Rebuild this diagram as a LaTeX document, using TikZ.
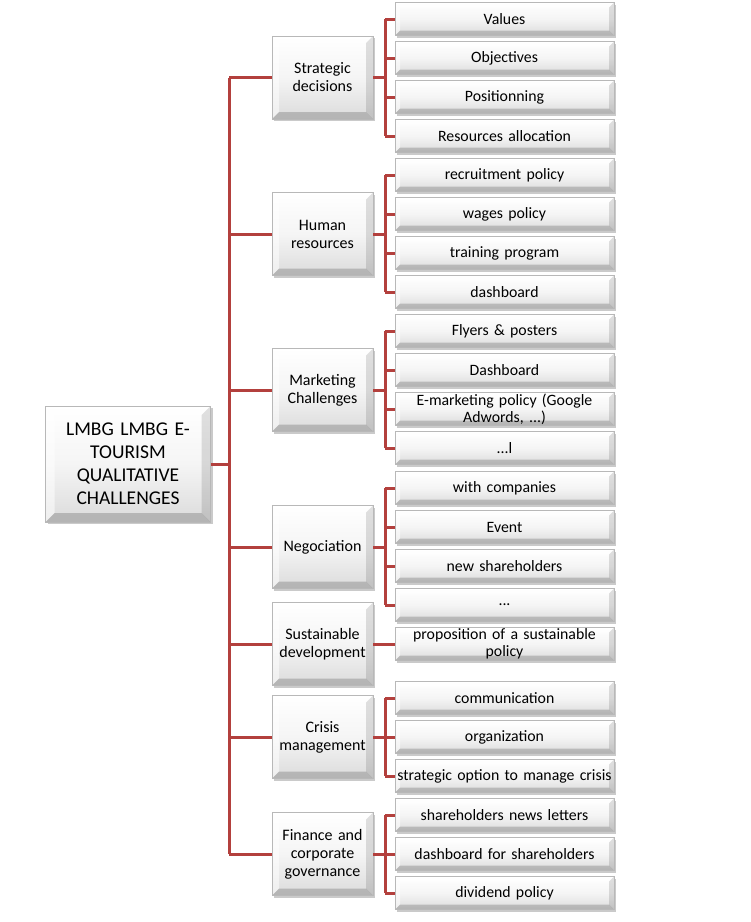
\documentclass[tikz,border=0pt]{standalone}
\usepackage{fontspec}
\setmainfont{Carlito}
\usetikzlibrary{shadows}
\definecolor{linered}{HTML}{B3403D}
\begin{document}
\begin{tikzpicture}[x=1pt,y=-1pt,
  bevel/.style={path picture={
    \fill[white,opacity=0.75] (path picture bounding box.north west) -- (path picture bounding box.north east)
      -- ([xshift=-#1,yshift=-#1]path picture bounding box.north east) -- ([xshift=#1,yshift=-#1]path picture bounding box.north west) -- cycle;
    \fill[white,opacity=0.55] (path picture bounding box.north west) -- (path picture bounding box.south west)
      -- ([xshift=#1,yshift=#1]path picture bounding box.south west) -- ([xshift=#1,yshift=-#1]path picture bounding box.north west) -- cycle;
    \fill[black,opacity=0.12] (path picture bounding box.north east) -- (path picture bounding box.south east)
      -- ([xshift=-#1,yshift=#1]path picture bounding box.south east) -- ([xshift=-#1,yshift=-#1]path picture bounding box.north east) -- cycle;
    \fill[black,opacity=0.18] (path picture bounding box.south west) -- (path picture bounding box.south east)
      -- ([xshift=-#1,yshift=#1]path picture bounding box.south east) -- ([xshift=#1,yshift=#1]path picture bounding box.south west) -- cycle;
  }},
  boxbase/.style={draw=black!28, line width=0.6pt, top color=white, bottom color=black!14, middle color=black!4,
    drop shadow={shadow xshift=2pt, shadow yshift=-2pt, opacity=0.35, fill=black!60},
    align=center, inner sep=1pt, text=black},
  rootbox/.style={boxbase, bevel=9pt, minimum width=165pt, minimum height=116pt, text width=150pt,
    font=\fontsize{19.5}{23}\selectfont},
  midbox/.style={boxbase, bevel=7pt, minimum width=101pt, minimum height=83pt, text width=97pt,
    font=\fontsize{16}{18}\selectfont},
  leafbox/.style={boxbase, bevel=5pt, minimum width=219pt, minimum height=33pt, text width=217pt,
    font=\fontsize{15.8}{17}\selectfont},
  conn/.style={draw=linered, line width=3pt}
]
\useasboundingbox (0,0) rectangle (751,922);

% root
\node[rootbox] (root) at (128,464) {LMBG LMBG E-\\TOURISM\\QUALITATIVE\\CHALLENGES};

% middle nodes
\node[midbox] (m1) at (322.5,77.5) {Strategic\\decisions};
\node[midbox] (m2) at (322.5,234) {Human\\resources};
\node[midbox] (m3) at (322.5,390) {Marketing\\Challenges};
\node[midbox] (m4) at (322.5,547) {Negociation};
\node[midbox] (m5) at (322.5,644) {Sustainable\\development};
\node[midbox] (m6) at (322.5,737) {Crisis\\management};
\node[midbox] (m7) at (322.5,854) {Finance and\\corporate\\governance};

% leaves
\node[leafbox] (l1) at (504.5,19) {Values};
\node[leafbox] (l2) at (504.5,58) {Objectives};
\node[leafbox] (l3) at (504.5,97) {Positionning};
\node[leafbox] (l4) at (504.5,136) {Resources allocation};
\node[leafbox] (l5) at (504.5,175) {recruitment policy};
\node[leafbox] (l6) at (504.5,214) {wages policy};
\node[leafbox] (l7) at (504.5,253) {training program};
\node[leafbox] (l8) at (504.5,292) {dashboard};
\node[leafbox] (l9) at (504.5,331) {Flyers \& posters};
\node[leafbox] (l10) at (504.5,370) {Dashboard};
\node[leafbox] (l11) at (504.5,409) {E-marketing policy (Google\\Adwords, ...)};
\node[leafbox] (l12) at (504.5,448) {...l};
\node[leafbox] (l13) at (504.5,488) {with companies};
\node[leafbox] (l14) at (504.5,527) {Event};
\node[leafbox] (l15) at (504.5,566) {new shareholders};
\node[leafbox] (l16) at (504.5,605) {...};
\node[leafbox] (l17) at (504.5,644) {proposition of a sustainable\\policy};
\node[leafbox] (l18) at (504.5,698) {communication};
\node[leafbox] (l19) at (504.5,737) {organization};
\node[leafbox] (l20) at (504.5,776) {strategic option to manage crisis};
\node[leafbox] (l21) at (504.5,815) {shareholders news letters};
\node[leafbox] (l22) at (504.5,854) {dashboard for shareholders};
\node[leafbox] (l23) at (504.5,893) {dividend policy};

% connectors: trunk
\coordinate (tx) at (229,0);
\coordinate (sx) at (385,0);
\draw[conn] (root.east) -- (root.east -| tx);
\draw[conn] (m1.west -| tx) -- (m7.west -| tx);
\foreach \m in {m1,m2,m3,m4,m5,m6,m7}
  \draw[conn] (\m.west -| tx) -- (\m.west);
% sub-branches
\foreach \m/\a/\b/\list in {m1/l1/l4/{l1,l2,l3,l4}, m2/l5/l8/{l5,l6,l7,l8}, m3/l9/l12/{l9,l10,l11,l12},
  m4/l13/l16/{l13,l14,l15,l16}, m6/l18/l20/{l18,l19,l20}, m7/l21/l23/{l21,l22,l23}}{
  \draw[conn] (\m.east) -- (\m.east -| sx);
  \draw[conn] (\a.west -| sx) -- (\b.west -| sx);
  \foreach \l in \list
    \draw[conn] (\l.west -| sx) -- (\l.west);
}
\draw[conn] (m5.east) -- (l17.west);
\end{tikzpicture}
\end{document}
